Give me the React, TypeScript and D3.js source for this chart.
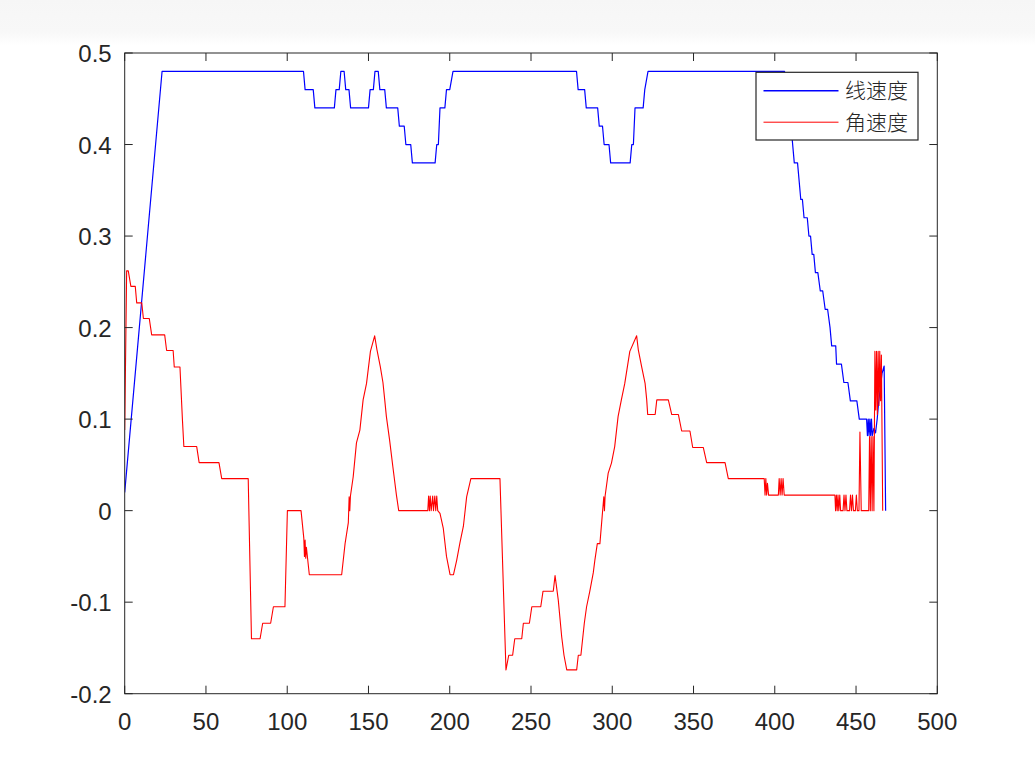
import React from 'react'
import * as d3 from 'd3'

// x = sample index, y = value
const linearSpeed: [number, number][] = [
  [0, 0.02], [23, 0.48], [110, 0.48], [111, 0.46], [116, 0.46], [117, 0.44], [129, 0.44],
  [130, 0.46], [132, 0.46], [133, 0.48], [135, 0.48], [136, 0.46], [138, 0.46], [139, 0.44],
  [150, 0.44], [151, 0.46], [153, 0.46], [154, 0.48], [156, 0.48], [157, 0.46], [160, 0.46],
  [161, 0.44], [168, 0.44], [169, 0.42], [172, 0.42], [173, 0.4], [176, 0.4], [177, 0.38],
  [191, 0.38], [192, 0.4], [193, 0.4], [194, 0.44], [197, 0.44], [198, 0.46], [200, 0.46],
  [202, 0.48], [278, 0.48], [279, 0.46], [283, 0.46], [284, 0.44], [291, 0.44], [292, 0.42],
  [294, 0.42], [295, 0.4], [298, 0.4], [299, 0.38], [311, 0.38], [312, 0.4], [313, 0.4],
  [314, 0.44], [319, 0.44], [320, 0.46], [322, 0.48], [406, 0.48], [408, 0.44], [410, 0.42],
  [412, 0.38], [414, 0.38], [416, 0.34], [417, 0.34], [418, 0.32], [420, 0.32], [421, 0.3],
  [422, 0.3], [423, 0.28], [424, 0.28], [425, 0.26], [426.5, 0.26], [428, 0.24], [429.5, 0.24],
  [431, 0.22], [432.5, 0.22], [434, 0.2], [435, 0.18], [437.5, 0.18], [438, 0.16], [441, 0.16],
  [442.5, 0.14], [445, 0.14], [446.5, 0.12], [450.5, 0.12], [452, 0.1], [456.5, 0.1],
  [457, 0.082], [457.5, 0.1], [458, 0.082], [458.5, 0.1], [459, 0.082], [459.5, 0.1],
  [460, 0.082], [461, 0.09], [462, 0.085], [463, 0.1], [464, 0.12], [465, 0.135], [466, 0.15],
  [467.3, 0.158], [468.2, 0],
]

const angularSpeed: [number, number][] = [
  [0, 0.088], [1.2, 0.262], [2.2, 0.262], [3.8, 0.245], [6.5, 0.245], [7.4, 0.227], [10.5, 0.227],
  [11.5, 0.21], [15.1, 0.21], [16.6, 0.192], [24.6, 0.192], [25.8, 0.175], [29.8, 0.175],
  [30.5, 0.157], [34, 0.157], [35.5, 0.1], [36.4, 0.07], [44.3, 0.07], [45.8, 0.0525],
  [58, 0.0525], [59.7, 0.035], [76, 0.035], [78, -0.14], [83.3, -0.14], [84.9, -0.123],
  [89.8, -0.123], [91.5, -0.105], [98.6, -0.105], [100.1, 0], [108.5, 0], [110.2, -0.03],
  [110.6, -0.05], [111, -0.032], [111.4, -0.052], [111.8, -0.04], [113.6, -0.07], [133.5, -0.07],
  [135.6, -0.036], [137.6, -0.013], [138.1, 0.015], [138.5, 0.0], [138.9, 0.016], [140.6, 0.037],
  [142.6, 0.074], [144.7, 0.088], [146.7, 0.121], [148.8, 0.139], [151.2, 0.174], [153.8, 0.191],
  [155.2, 0.176], [157.3, 0.157], [158.9, 0.14], [160, 0.121], [161, 0.103], [163, 0.077],
  [165, 0.048], [167.2, 0.017], [168.6, 0], [186.5, 0], [187, 0.016], [187.5, 0], [188, 0.016],
  [188.6, 0], [189.5, 0.016], [190, 0], [190.8, 0.016], [191.4, 0], [192, 0.016], [192.6, 0],
  [194, -0.003], [196, -0.019], [198, -0.05], [200.2, -0.07], [202.3, -0.07], [204.3, -0.054],
  [206.3, -0.035], [208.4, -0.017], [210.4, 0.015], [213, 0.035], [230.9, 0.035], [234.6, -0.174],
  [236.3, -0.158], [238.7, -0.158], [240, -0.14], [244.3, -0.14], [245.3, -0.123], [249, -0.123],
  [250.5, -0.105], [256, -0.105], [257.4, -0.088], [263.7, -0.088], [264.8, -0.071],
  [266.8, -0.098], [268.9, -0.138], [270.3, -0.158], [272, -0.174], [278.1, -0.174],
  [279.1, -0.158], [280.7, -0.158], [282.8, -0.123], [284.2, -0.105], [286.2, -0.088],
  [288.3, -0.068], [289.3, -0.054], [290.8, -0.036], [292.4, -0.036], [293.8, -0.006],
  [294.8, 0.015], [295.2, 0], [295.6, 0.016], [297.5, 0.041], [299.5, 0.052], [301.5, 0.07],
  [303.6, 0.103], [305.6, 0.121], [307.7, 0.139], [310.8, 0.174], [315, 0.191], [316, 0.176],
  [318.1, 0.157], [320.2, 0.139], [321.2, 0.121], [321.8, 0.105], [326.4, 0.105], [327.4, 0.121],
  [334.5, 0.121], [336.6, 0.105], [340.7, 0.105], [342.7, 0.087], [347.8, 0.087], [349.5, 0.069],
  [356, 0.069], [358.1, 0.0525], [369.4, 0.0525], [371.4, 0.035], [393.5, 0.035], [394, 0.017],
  [394.5, 0.035], [395, 0.017], [395.5, 0.03], [396.2, 0.017], [402.2, 0.017], [402.7, 0.035],
  [403.3, 0.017], [403.9, 0.035], [404.5, 0.017], [405.1, 0.035], [405.8, 0.017], [437, 0.017],
  [437.4, 0], [437.9, 0.017], [438.4, 0], [438.9, 0.017], [439.4, 0], [440, 0.017], [440.5, 0],
  [442, 0], [442.6, 0.017], [443.2, 0], [443.8, 0.017], [444.4, 0], [446, 0], [446.6, 0.017],
  [447.2, 0], [447.8, 0.017], [448.4, 0], [449.6, 0], [450.2, 0.017], [450.8, 0], [451.8, 0],
  [452.4, 0.086], [453.2, 0], [457.8, 0], [458.3, 0.081], [458.8, 0], [459.3, 0.081], [459.9, 0],
  [460.4, 0.081], [461, 0], [461.6, 0.174], [462.1, 0.11], [462.6, 0.174], [463.1, 0.105],
  [463.6, 0.174], [464.1, 0.115], [464.6, 0.174], [465.1, 0.12], [465.6, 0.17], [466.4, 0],
]

const xTicks = [0, 50, 100, 150, 200, 250, 300, 350, 400, 450, 500]
const yTicks = [-0.2, -0.1, 0, 0.1, 0.2, 0.3, 0.4, 0.5]
const yTickLabels = ['-0.2', '-0.1', '0', '0.1', '0.2', '0.3', '0.4', '0.5']
const seriesNames = ['线速度', '角速度']
const seriesColors = ['#0000ff', '#ff0000']

const W = 1035
const H = 779
const axisColor = '#262626'

export default function App() {
  const x = d3.scaleLinear().domain([0, 500]).range([124.7, 937.3])
  const y = d3.scaleLinear().domain([-0.2, 0.5]).range([693.7, 53])
  const [x0, x1] = x.range()
  const [y0, y1] = y.range()

  const line = d3
    .line<[number, number]>()
    .x((d) => x(d[0]))
    .y((d) => y(d[1]))

  const tickLen = 8
  const font = '"Liberation Sans", Arial, Helvetica, sans-serif'

  return (
    <svg
      width={W}
      height={H}
      style={{ position: 'absolute', left: 0, top: 0, background: '#fff' }}
    >
      <defs>
        <linearGradient id="topStrip" x1="0" y1="0" x2="0" y2="1">
          <stop offset="0" stopColor="#f6f6f6" />
          <stop offset="0.7" stopColor="#f8f8f8" />
          <stop offset="1" stopColor="#ffffff" />
        </linearGradient>
        <clipPath id="plotArea">
          <rect x={x0} y={y1} width={x1 - x0} height={y0 - y1} />
        </clipPath>
      </defs>
      <rect x={0} y={0} width={W} height={H} fill="#fff" />
      <rect x={0} y={0} width={W} height={46} fill="url(#topStrip)" />

      <g clipPath="url(#plotArea)">
        <path
          d={line(linearSpeed) ?? ''}
          fill="none"
          stroke={seriesColors[0]}
          strokeWidth={1.2}
          strokeLinejoin="round"
        />
        <path
          d={line(angularSpeed) ?? ''}
          fill="none"
          stroke={seriesColors[1]}
          strokeWidth={1.1}
          strokeLinejoin="round"
        />
      </g>

      {/* axes box and ticks */}
      <rect x={x0} y={y1} width={x1 - x0} height={y0 - y1} fill="none" stroke={axisColor} strokeWidth={1} />
      {xTicks.map((t) => (
        <g key={'x' + t}>
          <line x1={x(t)} x2={x(t)} y1={y0} y2={y0 - tickLen} stroke={axisColor} />
          <line x1={x(t)} x2={x(t)} y1={y1} y2={y1 + tickLen} stroke={axisColor} />
          <text
            x={x(t)}
            y={y0 + 36.5}
            textAnchor="middle"
            fontFamily={font}
            fontSize={24}
            fill={axisColor}
          >
            {t}
          </text>
        </g>
      ))}
      {yTicks.map((t, i) => (
        <g key={'y' + t}>
          <line x1={x0} x2={x0 + tickLen} y1={y(t)} y2={y(t)} stroke={axisColor} />
          <line x1={x1} x2={x1 - tickLen} y1={y(t)} y2={y(t)} stroke={axisColor} />
          <text
            x={x0 - 13}
            y={y(t) + 9}
            textAnchor="end"
            fontFamily={font}
            fontSize={24}
            fill={axisColor}
          >
            {yTickLabels[i]}
          </text>
        </g>
      ))}

      {/* legend */}
      <g>
        <rect x={756} y={72.3} width={162} height={67.7} fill="#fff" stroke={axisColor} strokeWidth={1.2} />
        {seriesNames.map((name, i) => (
          <g key={name}>
            <line
              x1={763.5}
              x2={838.5}
              y1={90.7 + i * 31.5}
              y2={90.7 + i * 31.5}
              stroke={seriesColors[i]}
              strokeWidth={i === 0 ? 1.4 : 1}
            />
            <text
              x={845}
              y={90.7 + i * 31.5 + 7.5}
              fontFamily='"Noto Sans CJK SC", sans-serif'
              fontSize={21}
              fontWeight={300}
              fill={axisColor}
            >
              {name}
            </text>
          </g>
        ))}
      </g>
    </svg>
  )
}
